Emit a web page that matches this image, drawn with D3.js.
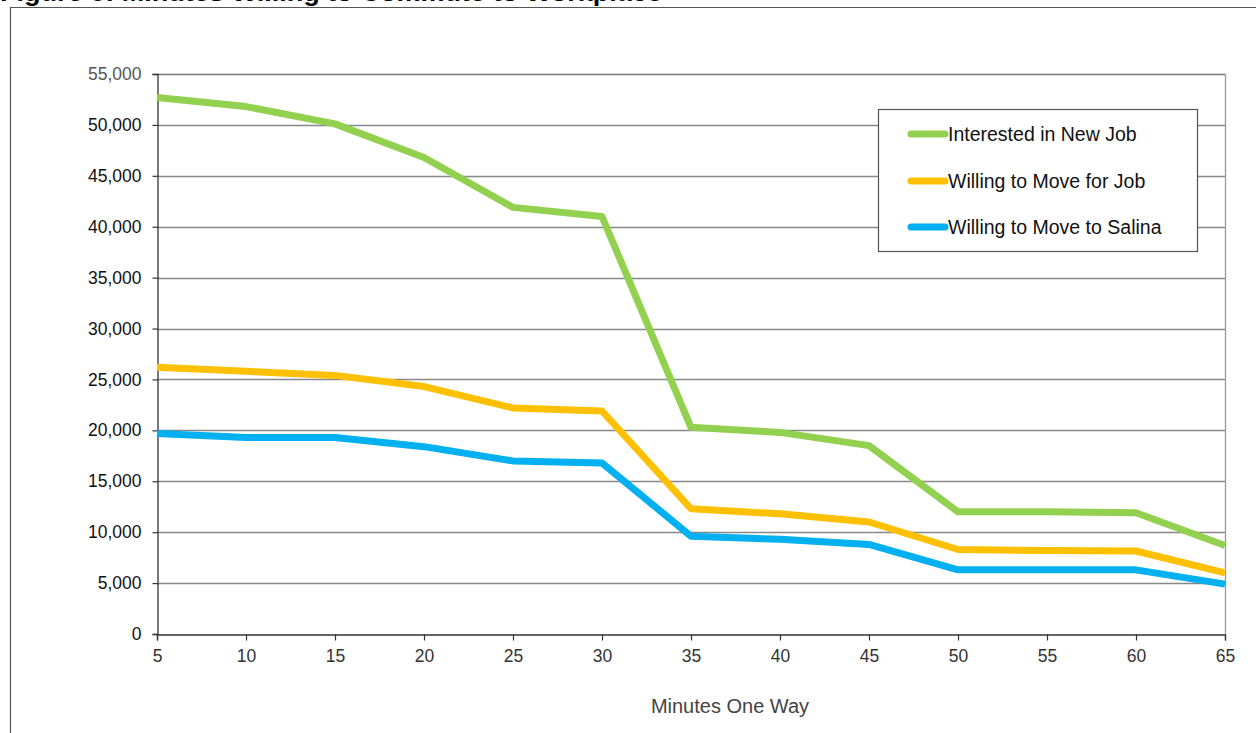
<!DOCTYPE html>
<html><head><meta charset="utf-8">
<script src="https://cdn.jsdelivr.net/npm/d3@7"></script>
<style>body{margin:0;background:#fff;}svg{display:block;font-family:"Liberation Sans",Arial,sans-serif;}</style>
</head><body>
<svg id="c" width="1256" height="733"></svg>
<script>
const minutes = [5,10,15,20,25,30,35,40,45,50,55,60,65];
const interestedNewJob = [52700,51800,50100,46800,41900,41000,20300,19800,18500,12000,12000,11900,8700];
const willingMoveForJob = [26200,25800,25400,24300,22200,21900,12300,11800,11000,8300,8200,8150,6000];
const willingMoveSalina = [19700,19300,19300,18400,17000,16800,9600,9300,8800,6300,6300,6300,4900];
const yTicks = [0,5000,10000,15000,20000,25000,30000,35000,40000,45000,50000,55000];
const seriesNames = ["Interested in New Job","Willing to Move for Job","Willing to Move to Salina"];
const seriesColors = ["#92D050","#FFC000","#00B0F0"];
const title = "Figure 8: Minutes Willing to Commute to Workplace";
const xTitle = "Minutes One Way";

const svg = d3.select("#c");
const L=157,R=1225,T=74,B=634;
const x = d3.scaleLinear().domain([5,65]).range([L,R]);
const y = d3.scaleLinear().domain([0,55000]).range([B,T]);

// title (cut off at top)
svg.append("text").attr("x",0).attr("y",1).attr("font-size",26).attr("font-weight","bold").attr("fill","#000")
  .attr("textLength",662).attr("lengthAdjust","spacingAndGlyphs").text(title);
// outer frame
svg.append("path").attr("d","M10.5,733 V7.5 H1256").attr("fill","none").attr("stroke","#555").attr("stroke-width",1.2);

// gridlines
svg.append("g").selectAll("line").data(yTicks.filter(d=>d>0)).join("line")
  .attr("x1",L).attr("x2",R).attr("y1",d=>Math.round(y(d))+0.5).attr("y2",d=>Math.round(y(d))+0.5)
  .attr("stroke",d=>d===55000?"#777":"#888").attr("stroke-width",1.3);
// right border
svg.append("line").attr("x1",R+0.5).attr("x2",R+0.5).attr("y1",T).attr("y2",B).attr("stroke","#999").attr("stroke-width",1.3);

// axes
const yAxis = d3.axisLeft(y).tickValues(yTicks).tickSize(5).tickPadding(11).tickFormat(d3.format(","));
const gy = svg.append("g").attr("transform",`translate(${L+0.5},0)`).call(yAxis);
const xAxis = d3.axisBottom(x).tickValues(minutes).tickSize(6).tickPadding(9);
const gx = svg.append("g").attr("transform",`translate(0,${B+0.5})`).call(xAxis);
[gx,gy].forEach(g=>{
  g.select(".domain").attr("stroke","#333").attr("stroke-width",1.3);
  g.selectAll(".tick line").attr("stroke","#333").attr("stroke-width",1.2);
  g.selectAll("text").attr("font-size",17.5).attr("fill","#111").attr("font-family",'"Liberation Sans",Arial,sans-serif');
});
gx.selectAll(".tick text").attr("fill","#333");
gy.select(".tick:last-of-type text").attr("fill","#555");

// series
const data = [interestedNewJob,willingMoveForJob,willingMoveSalina];
const line = d3.line().x((d,i)=>x(minutes[i])).y(d=>y(d));
svg.append("g").selectAll("path").data(data).join("path")
  .attr("d",line).attr("fill","none").attr("stroke",(d,i)=>seriesColors[i]).attr("stroke-width",7).attr("stroke-linejoin","round");

// x title
svg.append("text").attr("x",730).attr("y",713).attr("text-anchor","middle").attr("font-size",20).attr("fill","#444").text(xTitle);

// legend
const lg = svg.append("g");
lg.append("rect").attr("x",878.5).attr("y",109.5).attr("width",319).attr("height",142).attr("fill","#fff").attr("stroke","#555").attr("stroke-width",1.2);
const ly = [134,181,227];
seriesNames.forEach((n,i)=>{
  lg.append("line").attr("x1",911).attr("x2",945).attr("y1",ly[i]).attr("y2",ly[i]).attr("stroke",seriesColors[i]).attr("stroke-width",7).attr("stroke-linecap","round");
  lg.append("text").attr("x",948).attr("y",ly[i]+7).attr("font-size",19.5).attr("fill","#111").text(n);
});
</script>
</body></html>
